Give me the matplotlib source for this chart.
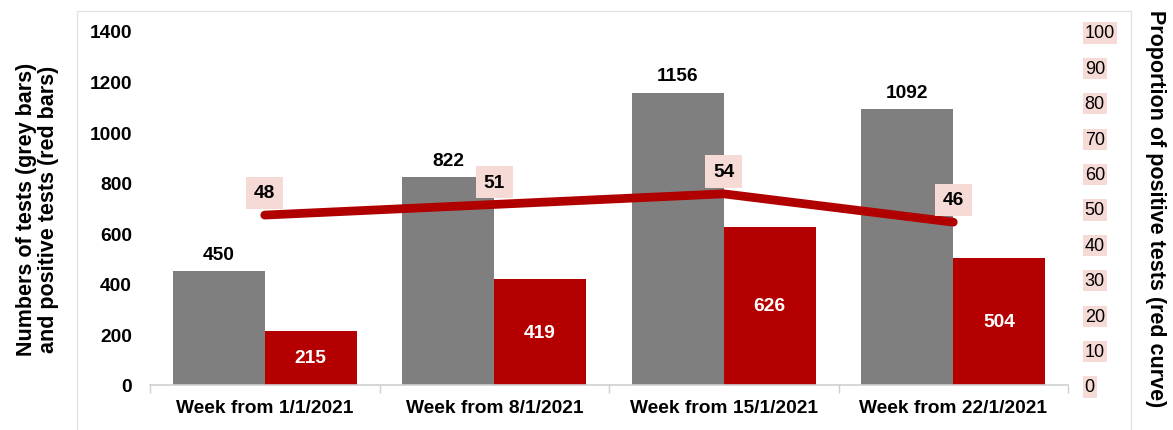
import matplotlib
matplotlib.use("Agg")
import matplotlib.pyplot as plt
from matplotlib.patches import Rectangle
import numpy as np

plt.rcParams['font.family'] = ['Liberation Sans', 'DejaVu Sans']

categories = ["Week from 1/1/2021", "Week from 8/1/2021", "Week from 15/1/2021", "Week from 22/1/2021"]
tests = [450, 822, 1156, 1092]
positives = [215, 419, 626, 504]
proportion = [48, 51, 54, 46]
left_ticks = [0, 200, 400, 600, 800, 1000, 1200, 1400]
right_ticks = [0, 10, 20, 30, 40, 50, 60, 70, 80, 90, 100]

GREY = "#7f7f7f"
RED = "#b40000"
LINE = "#b00000"
PINK = "#f6dad6"

W, H = 1173, 431
fig = plt.figure(figsize=(W / 100, H / 100), dpi=100)

# outer light border
fig.patches.append(Rectangle((77 / W, -0.05), (1131 - 77) / W, (H - 12) / H + 0.05,
                             transform=fig.transFigure, fill=False,
                             edgecolor="#e3e3e3", linewidth=1.0))

ax = fig.add_axes([150 / W, (H - 386) / H, (1068 - 150) / W, (386 - 32) / H])
ax2 = ax.twinx()

FS = 13.8
x = np.arange(len(categories))
bw = 0.4
ax.bar(x - bw / 2, tests, bw, color=GREY, zorder=2)
ax.bar(x + bw / 2, positives, bw, color=RED, zorder=2)

for xi, v in zip(x, tests):
    ax.annotate(str(v), (xi - bw / 2, v), xytext=(0, 6), textcoords="offset points",
                ha="center", va="bottom", fontsize=FS, fontweight="bold", color="black")
for xi, v in zip(x, positives):
    ax.text(xi + bw / 2, v / 2, str(v), ha="center", va="center",
            fontsize=FS, fontweight="bold", color="white")

ax.set_xlim(-0.5, len(categories) - 0.5)
ax.set_ylim(0, 1400)
ax.set_yticks(left_ticks)
ax.set_yticklabels([str(t) for t in left_ticks], fontsize=FS, fontweight="bold")
ax.tick_params(axis="y", length=0, pad=13)
ax.set_xticks(x)
ax.set_xticklabels(categories, fontsize=FS, fontweight="bold")
ax.tick_params(axis="x", length=0, pad=10)
ax.set_xticks(np.arange(len(categories) + 1) - 0.5, minor=True)
ax.tick_params(axis="x", which="minor", length=6, color="#cfcfcf", width=1)
for s in ["top", "right", "left"]:
    ax.spines[s].set_visible(False)
ax.spines["bottom"].set_color("#cfcfcf")
ax.spines["bottom"].set_linewidth(1.2)
ax.set_ylabel("Numbers of tests (grey bars)\nand positive tests (red bars)",
              fontsize=15.5, fontweight="bold", labelpad=22, linespacing=1.05)

ax2.plot(x, proportion, color=LINE, linewidth=6.3, solid_capstyle="round", zorder=3)
for xi, v in zip(x, proportion):
    ax2.annotate(str(v), (xi, v), xytext=(0, 10), textcoords="offset points",
                 ha="center", va="bottom", fontsize=FS, fontweight="bold", color="black",
                 bbox=dict(boxstyle="square,pad=0.4", facecolor=PINK, edgecolor="none"))
ax2.set_ylim(0, 100)
ax2.set_yticks(right_ticks)
ax2.set_yticklabels([str(t) for t in right_ticks], fontsize=13)
for lab in ax2.get_yticklabels():
    lab.set_bbox(dict(boxstyle="square,pad=0.12", facecolor=PINK, edgecolor="none"))
ax2.tick_params(axis="y", length=0, pad=12)
for s in ["top", "right", "left", "bottom"]:
    ax2.spines[s].set_visible(False)
ax2.set_ylabel("Proportion of positive tests (red curve)", fontsize=15.5, fontweight="bold",
               rotation=-90, va="bottom", labelpad=22)

ax.set_zorder(1)
ax2.set_zorder(2)
ax2.patch.set_visible(False)

fig.savefig("out.png", dpi=100)
